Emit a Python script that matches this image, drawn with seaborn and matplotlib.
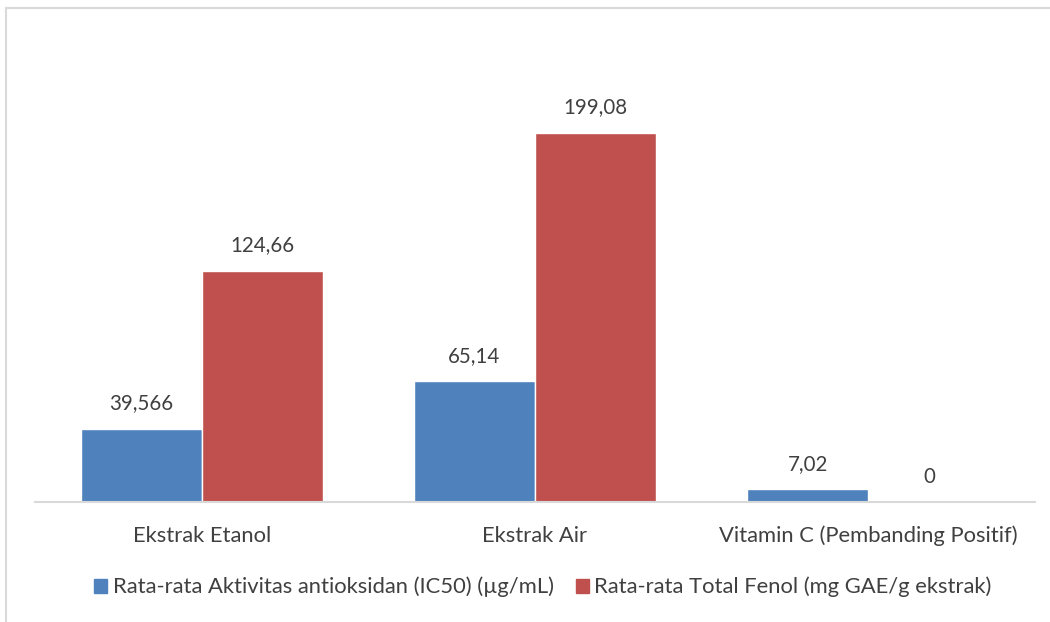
import numpy as np
import pandas as pd
import matplotlib
matplotlib.use("Agg")
import matplotlib.pyplot as plt
import seaborn as sns

# data
kategori = ['Ekstrak Etanol', 'Ekstrak Air', 'Vitamin C (Pembanding Positif)']
seri = ['Rata-rata Aktivitas antioksidan (IC50) (µg/mL)',
        'Rata-rata Total Fenol (mg GAE/g ekstrak)']
ic50 = [39.566, 65.14, 7.02]
fenol = [124.66, 199.08, 0]
label_ic50 = ['39,566', '65,14', '7,02']
label_fenol = ['124,66', '199,08', '0']

df = pd.DataFrame({
    'kategori': kategori * 2,
    'seri': [seri[0]] * 3 + [seri[1]] * 3,
    'nilai': ic50 + fenol,
})

sns.set_style('white')
plt.rcParams['font.family'] = ['Lato', 'DejaVu Sans']
warna = ['#4F81BD', '#C0504D']
teks = '#404040'

fig = plt.figure(figsize=(10.5, 6.22), dpi=100)
ax = fig.add_axes([35/1050, 120/622, 1000/1050, 464/622])

sns.barplot(data=df, x='kategori', y='nilai', hue='seri', palette=warna,
            width=0.727, gap=0, saturation=1, ax=ax, legend=False)

ax.set_ylim(0, 250)
ax.set_xlim(-0.5, 2.5)
ax.set_xlabel('')
ax.set_ylabel('')
ax.set_yticks([])
ax.tick_params(axis='x', length=0, pad=17, labelsize=15.8, labelcolor=teks)
for s in ['top', 'right', 'left']:
    ax.spines[s].set_visible(False)
ax.spines['bottom'].set_color('#D9D9D9')
ax.spines['bottom'].set_linewidth(1.5)

# label di atas batang
semua_label = label_ic50 + label_fenol
for bar, lab in zip(ax.patches, semua_label):
    ax.annotate(lab, (bar.get_x() + bar.get_width() / 2, bar.get_height()),
                xytext=(0, 11), textcoords='offset points',
                ha='center', va='bottom', fontsize=14.8, color=teks)

# legend
handles = [plt.Rectangle((0, 0), 1, 1, color=c) for c in warna]
fig.legend(handles, seri, loc='center', bbox_to_anchor=(543/1050, 35/622),
           ncol=2, frameon=False, fontsize=15.8, labelcolor=teks,
           handlelength=0.6, handleheight=0.6, handletextpad=0.25,
           columnspacing=1.0)

# bingkai chart (atas & kiri)
fig.add_artist(plt.Line2D([6/1050, 1], [1 - 8/622, 1 - 8/622],
                          color='#D9D9D9', lw=1.5, transform=fig.transFigure))
fig.add_artist(plt.Line2D([6/1050, 6/1050], [0, 1 - 8/622],
                          color='#D9D9D9', lw=1.5, transform=fig.transFigure))

fig.savefig('out.png', dpi=100)
